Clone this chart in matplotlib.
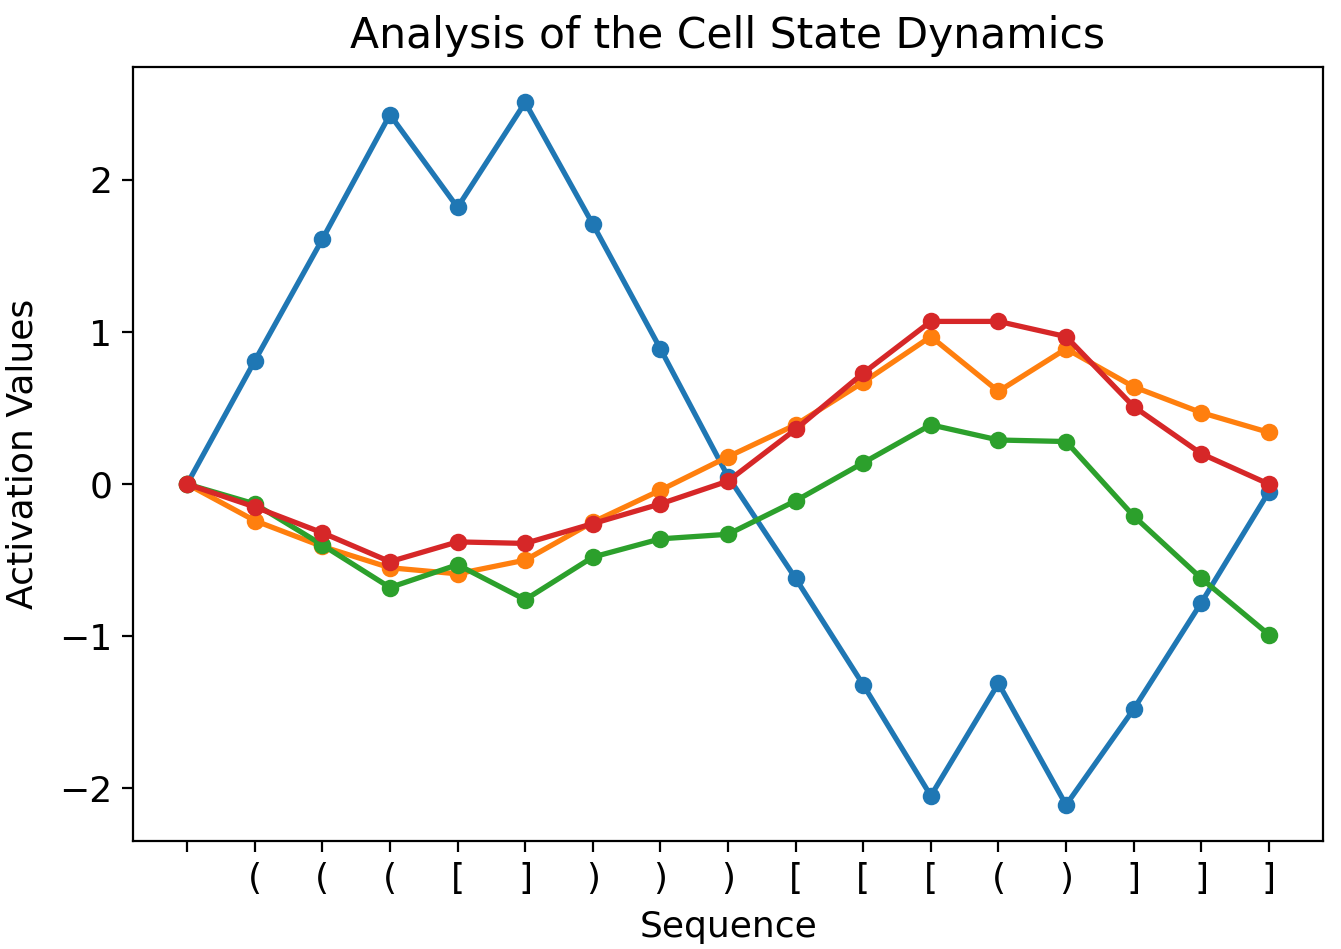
import matplotlib
matplotlib.use("Agg")
import matplotlib.pyplot as plt
import numpy as np

tick_labels = ['', '(', '(', '(', '[', ']', ')', ')', ')', '[', '[', '[', '(', ')', ']', ']', ']']
blue = [0.0, 0.81, 1.61, 2.43, 1.82, 2.51, 1.71, 0.89, 0.05, -0.62, -1.32, -2.05, -1.31, -2.11, -1.48, -0.78, -0.05]
orange = [0.0, -0.24, -0.41, -0.55, -0.59, -0.50, -0.25, -0.04, 0.18, 0.39, 0.67, 0.97, 0.61, 0.89, 0.64, 0.47, 0.34]
green = [0.0, -0.13, -0.40, -0.68, -0.53, -0.76, -0.48, -0.36, -0.33, -0.11, 0.14, 0.39, 0.29, 0.28, -0.21, -0.62, -0.99]
red = [0.0, -0.15, -0.32, -0.51, -0.38, -0.39, -0.26, -0.13, 0.02, 0.36, 0.73, 1.07, 1.07, 0.97, 0.51, 0.20, 0.0]

plt.rcParams['font.size'] = 13
plt.rcParams['axes.linewidth'] = 0.8
plt.rcParams['xtick.major.size'] = 4
plt.rcParams['ytick.major.size'] = 4

fig = plt.figure(figsize=(13.41 / 2, 9.49 / 2), dpi=200)
ax = fig.add_axes([133 / 1341, 1 - 841 / 949, (1323 - 133) / 1341, (841 - 67) / 949])
x = np.arange(len(tick_labels))
for s, c in zip([blue, orange, green, red], ['#1f77b4', '#ff7f0e', '#2ca02c', '#d62728']):
    ax.plot(x, s, '-o', color=c, markersize=5.3, linewidth=1.9)
ax.set_xticks(x)
ax.set_xticklabels(tick_labels)
ax.set_xlabel('Sequence', labelpad=5)
ax.set_ylabel('Activation Values', labelpad=7)
ax.set_title('Analysis of the Cell State Dynamics', fontsize=15.3, pad=7)
ax.set_xlim(-0.8, 16.8)
ax.set_ylim(-2.347, 2.743)
ax.set_yticks([-2, -1, 0, 1, 2])
ax.set_yticklabels(['\u22122', '\u22121', '0', '1', '2'])
fig.savefig('out.png', dpi=200)
